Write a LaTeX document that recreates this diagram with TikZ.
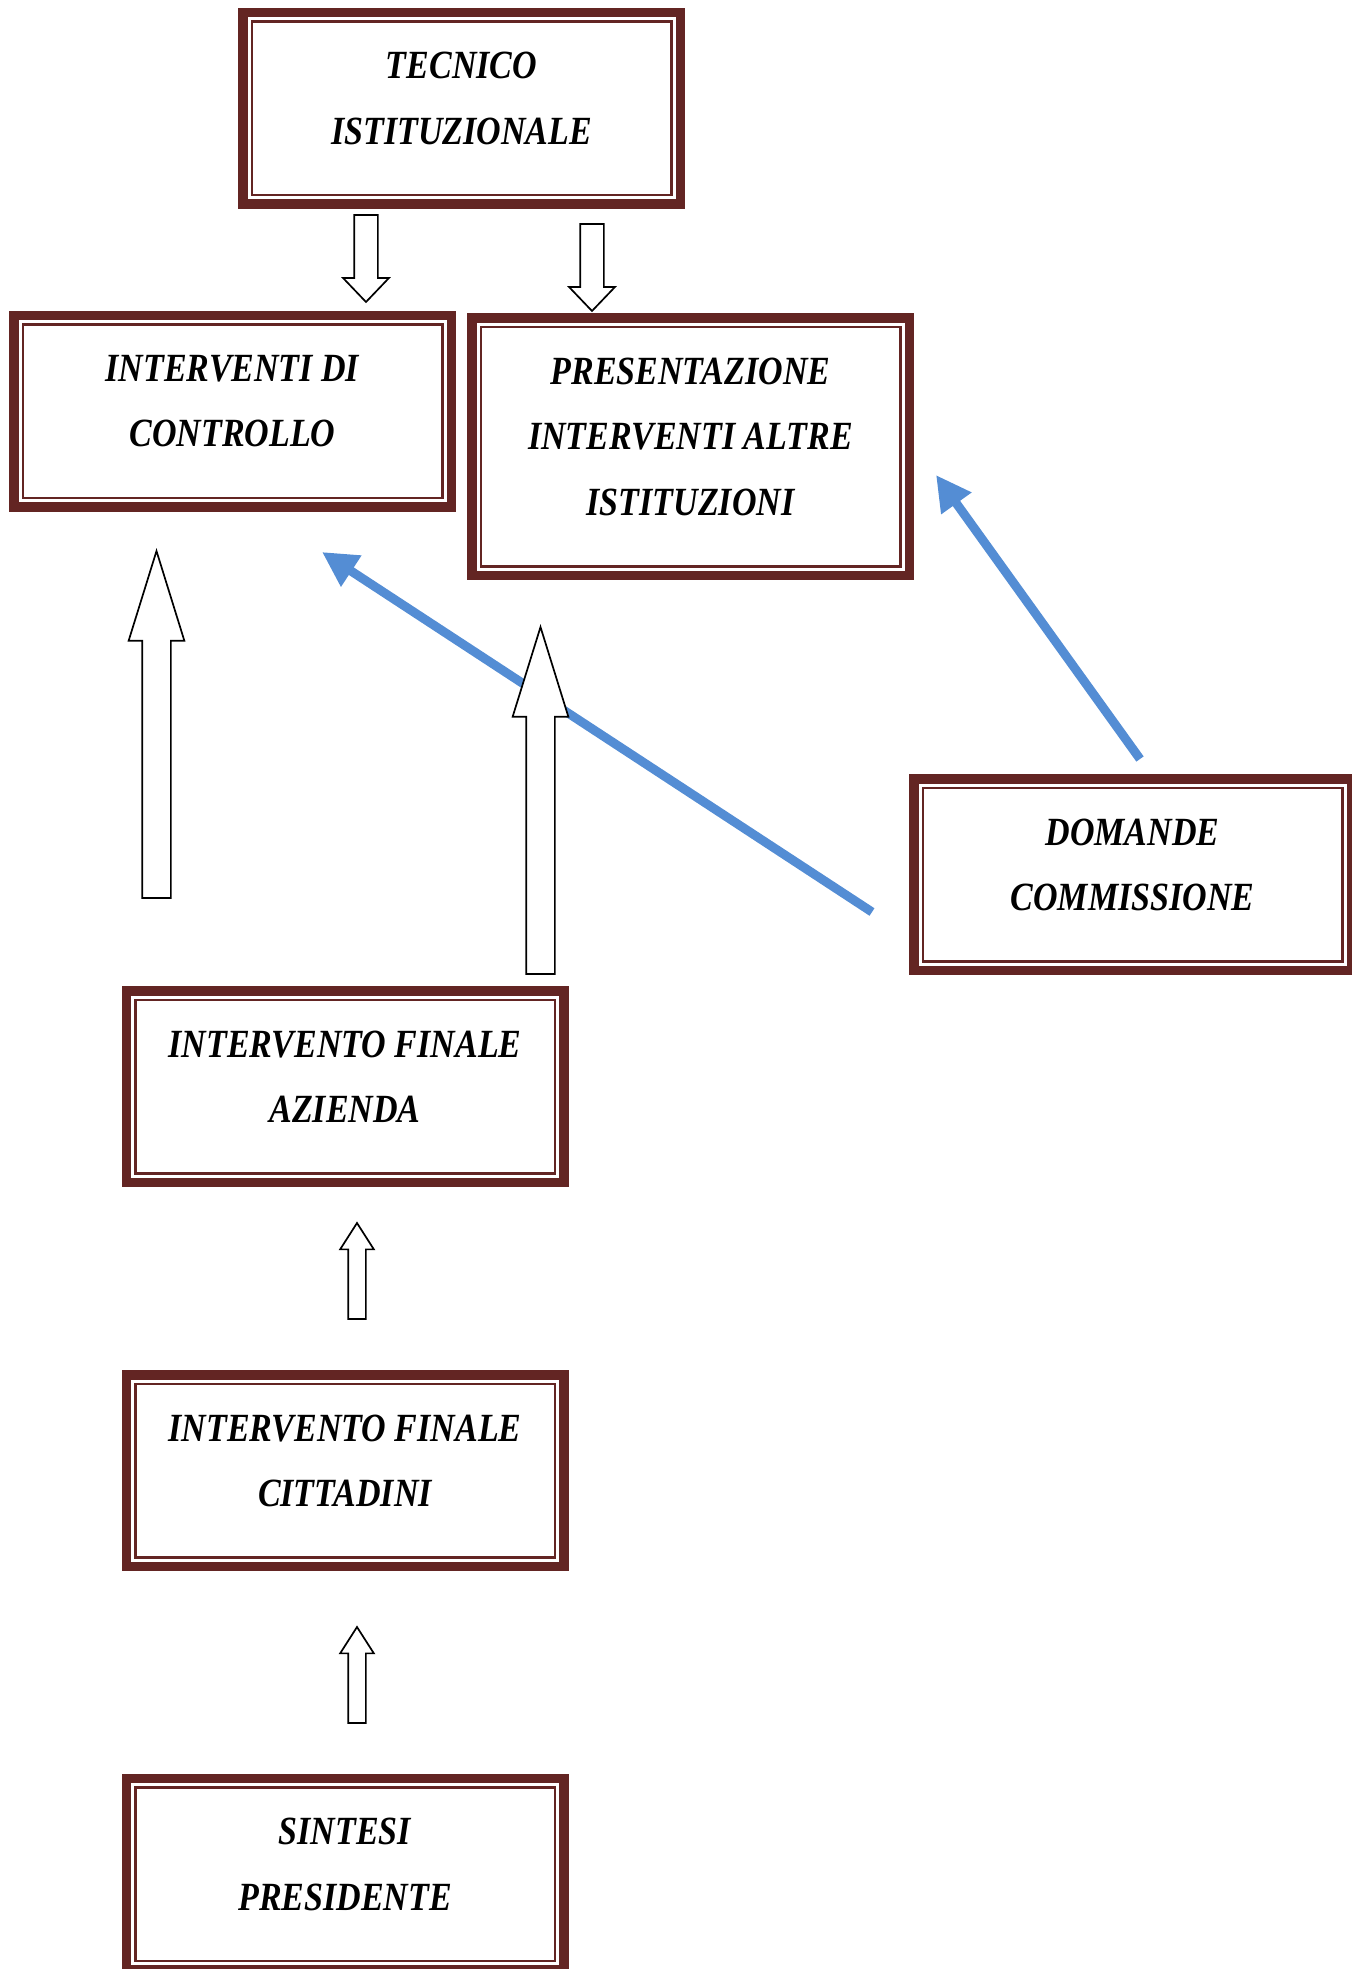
\documentclass[tikz,border=0pt]{standalone}
\usepackage{fontspec}
\newfontfamily\boxfont{Liberation Serif}[FakeStretch=0.85]
\usetikzlibrary{shapes,arrows.meta,positioning}
\definecolor{framecol}{RGB}{99,37,35}
\definecolor{linkblue}{RGB}{84,141,212}
\tikzset{framed/.style={rectangle,draw=framecol,line width=4.75pt,fill=white,
    minimum width=218.75pt,minimum height=95.75pt,inner sep=0pt,align=center,
    font=\boxfont\fontsize{20pt}{32.75pt}\selectfont\bfseries\itshape,
    execute at end node={\rule[-10pt]{0pt}{10pt}},
    path picture={\draw[framecol,line width=1.25pt]
      ([shift={(4.5pt,-4.5pt)}]path picture bounding box.north west) rectangle
      ([shift={(-4.5pt,4.5pt)}]path picture bounding box.south east);}}}
\tikzset{block/.style={single arrow,draw,line width=0.85pt,fill=white,inner xsep=0pt,outer sep=0pt,anchor=tail}}
\tikzset{bigup/.style={block,rotate=90,inner ysep=6.75pt,minimum height=173.5pt,minimum width=27pt,single arrow head extend=6.75pt,single arrow tip angle=34.5}}
\tikzset{smallup/.style={block,rotate=90,inner ysep=4pt,minimum height=48pt,minimum width=16pt,single arrow head extend=4pt,single arrow tip angle=65.2}}
\tikzset{downarrow/.style={block,rotate=-90,inner ysep=5.5pt,minimum height=43.5pt,minimum width=22pt,single arrow head extend=5.5pt,single arrow tip angle=87.4}}
\tikzset{feed/.style={draw=linkblue,line width=4.5pt,-{Triangle[length=17.5pt,width=17.5pt]}}}

\begin{document}
\begin{tikzpicture}[x=0.5pt,y=-0.5pt]
    \useasboundingbox (0,0) rectangle (1352,1969);

    \node[framed] (tecnico) at (461.5,108.5) {TECNICO\\ISTITUZIONALE};
    \node[framed] (controllo) at (232.5,411) {INTERVENTI DI\\CONTROLLO};
    \node[framed,minimum height=128.75pt] (altre) at (690.5,446.5) {PRESENTAZIONE\\INTERVENTI ALTRE\\ISTITUZIONI};
    \node[framed] (domande) at (1132.5,874.5) {DOMANDE\\COMMISSIONE};
    \node[framed] (azienda) at (345,1086.5) {INTERVENTO FINALE\\AZIENDA};
    \node[framed,below of=azienda,node distance=192pt] (cittadini) {INTERVENTO FINALE\\CITTADINI};
    \node[framed,below of=cittadini,node distance=201.75pt] (sintesi) {SINTESI\\PRESIDENTE};

        \path[feed] ([shift={(-37,37.5)}]domande.west) -- ([shift={(89.5,40.5)}]controllo.south);
        \path[feed] ([shift={(7.5,-15)}]domande.north) -- ([shift={(22,28.5)}]altre.east);

    \node[downarrow] (d1) at (366,215) {};
    \node[downarrow] (d2) at (592,224) {};
    \node[bigup] (u1) at (156.5,898) {};
    \node[bigup] (u2) at (540.5,974) {};
    \node[smallup] (u3) at (357,1319) {};
    \node[smallup] (u4) at (357,1723) {};
\end{tikzpicture}
\end{document}
